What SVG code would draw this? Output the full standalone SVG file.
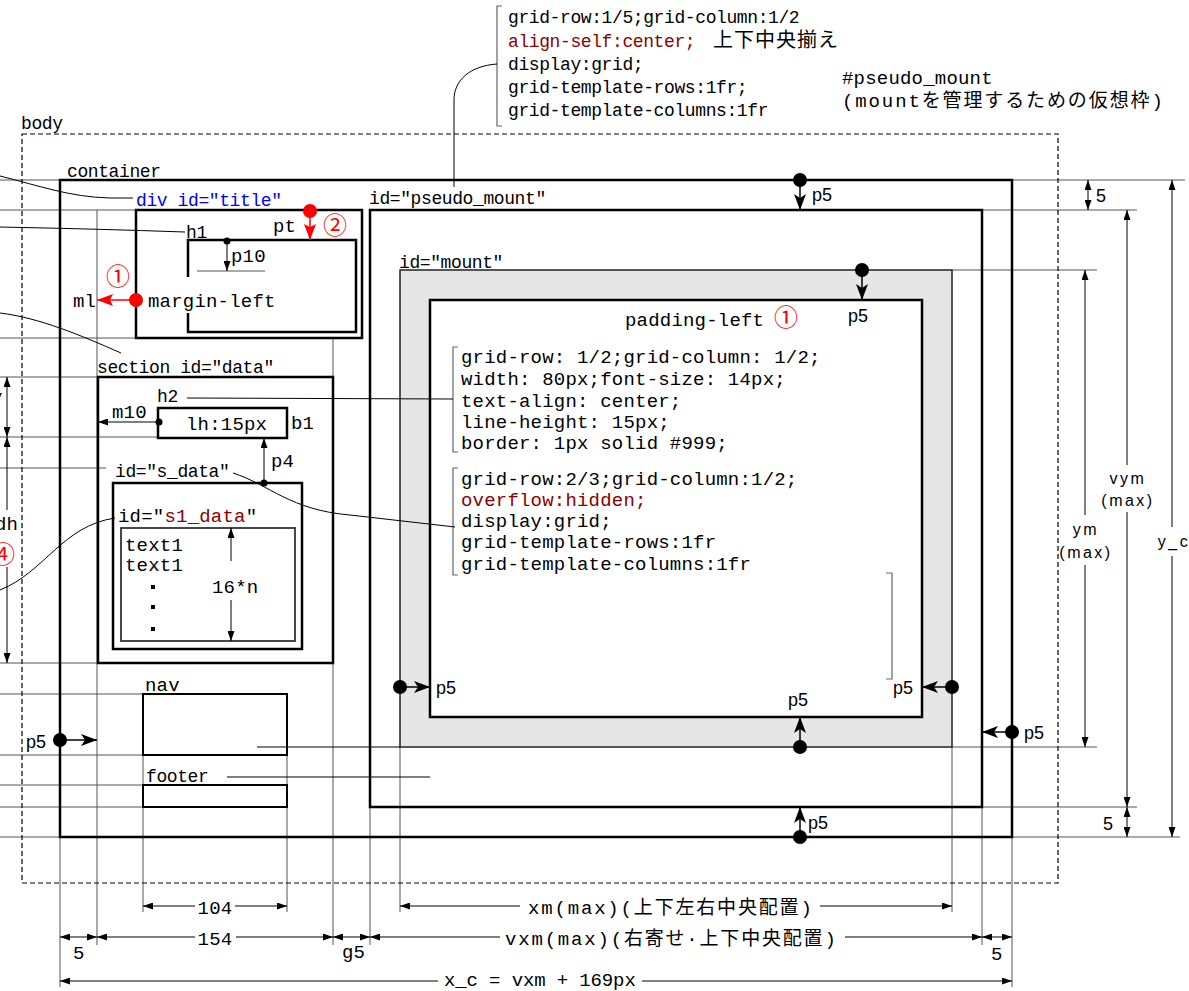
<svg xmlns="http://www.w3.org/2000/svg" width="1189" height="991" viewBox="0 0 1189 991">
<defs>
<style>
text{fill:#000}
.a{font-family:"Liberation Mono","Noto Sans CJK JP",monospace;font-size:18px;letter-spacing:-0.4px}
.b{font-family:"Liberation Mono","Noto Sans CJK JP",monospace;font-size:19px;letter-spacing:0.2px}
.r{font-family:"Liberation Sans","Noto Sans CJK JP",sans-serif;font-size:18px}
.v{font-family:"Liberation Sans",sans-serif;font-size:16px;letter-spacing:2.5px}
.c{font-family:"Noto Sans CJK JP",sans-serif;font-size:24px;fill:#f00}
.dr{fill:#8b0000}
.blue{fill:#0000ff}
.box{fill:none;stroke:#000;stroke-width:2.5}
.ext{fill:none;stroke:#555;stroke-width:1}
.ln{fill:none;stroke:#000;stroke-width:1}
.brk{fill:none;stroke:#666;stroke-width:1.2}
.dot{fill:#000}
.rdot{fill:#f00}
</style>
<marker id="da" viewBox="0 0 10 7" refX="10" refY="3.5" markerWidth="10" markerHeight="7" markerUnits="userSpaceOnUse" orient="auto-start-reverse"><path d="M0,0 L10,3.5 L0,7 z" fill="#000"/></marker>
<marker id="pa" viewBox="0 0 16 12" refX="16" refY="6" markerWidth="16" markerHeight="12" markerUnits="userSpaceOnUse" orient="auto"><path d="M0,0 L16,6 L0,12 L4,6 z" fill="#000"/></marker>
<marker id="ra" viewBox="0 0 16 12" refX="16" refY="6" markerWidth="16" markerHeight="12" markerUnits="userSpaceOnUse" orient="auto"><path d="M0,0 L16,6 L0,12 L3,6 z" fill="#f00"/></marker>
</defs>
<rect width="1189" height="991" fill="#fff"/>

<!-- extension lines -->
<g id="extensions" class="ext">
<path d="M0,180H60 M0,210H136 M0,338H136 M0,377H98 M0,437H158 M0,468H106 M0,663H98 M0,694H143 M0,755H143 M0,785H143 M0,807H143 M0,837H60"/>
<path d="M1012,180H1185 M982,210H1137 M952,270H1097 M952,747H1097 M982,807H1137 M1012,837H1180"/>
<path d="M97,210V945 M333,338V945 M143,755V912 M287,755V912 M400,747V912 M952,747V912 M370,807V945 M982,807V945 M60,837V987 M1012,837V987"/>
<path d="M197,271H265"/>
</g>

<g id="body">
<rect x="22" y="134" width="1036" height="749" fill="none" stroke="#000" stroke-width="1.2" stroke-dasharray="5 3"/>
<text class="a" x="21" y="129">body</text>
</g>

<g id="container">
<rect class="box" x="60" y="180" width="952" height="657"/>
<text class="a" x="67" y="177">container</text>
</g>

<g id="title">
<rect class="box" x="136" y="210" width="226" height="128"/>
<text class="a blue" x="136" y="206">div id=″title″</text>
</g>

<g id="h1">
<path class="box" d="M188,277V240H356V332H188V313"/>
<text class="a" x="186" y="238">h1</text>
<text class="b" x="148" y="307">margin-left</text>
</g>

<g id="pseudo_mount">
<rect class="box" x="370" y="210" width="612" height="597"/>
<text class="a" x="369" y="204">id=″pseudo_mount″</text>
</g>

<g id="mount">
<rect x="400" y="270" width="552" height="477" fill="#e6e6e6" stroke="#222" stroke-width="1.5"/>
<rect x="430" y="300" width="492" height="417" fill="#fff" stroke="#000" stroke-width="2.5"/>
<text class="a" x="399" y="268">id=″mount″</text>
<text class="b" x="625" y="326">padding-left</text>
<text class="c" x="774" y="326">①</text>
</g>

<g id="data">
<rect class="box" x="98" y="377" width="235" height="286"/>
<text class="a" x="97" y="373">section id=″data″</text>
</g>

<g id="h2">
<rect class="box" x="158" y="408" width="129" height="30"/>
<text class="a" x="157" y="402">h2</text>
<text class="b" x="186" y="430">lh:15px</text>
<text class="b" x="291" y="429">b1</text>
</g>

<g id="s_data">
<rect class="box" x="113" y="483" width="189" height="166"/>
<text class="a" x="115" y="477">id=″s_data″</text>
</g>

<g id="s1_data">
<rect x="121" y="528" width="174" height="113" fill="none" stroke="#333" stroke-width="1.8"/>
<text class="b" x="118" y="522">id=″<tspan class="dr">s1_data</tspan>″</text>
<text class="b" x="125" y="551">text1</text>
<text class="b" x="125" y="571">text1</text>
<rect x="151" y="585" width="4" height="4"/>
<rect x="151" y="605" width="4" height="4"/>
<rect x="151" y="627" width="4" height="4"/>
<text class="b" x="212" y="593">16*n</text>
</g>

<g id="nav">
<rect x="143" y="694" width="144" height="61" fill="none" stroke="#000" stroke-width="2"/>
<text class="b" x="145" y="691">nav</text>
</g>

<g id="footer">
<rect x="143" y="785" width="144" height="22" fill="none" stroke="#000" stroke-width="2"/>
<text class="a" x="146" y="782">footer</text>
</g>

<g id="note_pseudo_mount">
<path class="brk" d="M502,6H497V126H502"/>
<text class="a" x="508" y="23">grid-row:1/5;grid-column:1/2</text>
<text class="a" x="508" y="47"><tspan class="dr">align-self:center;</tspan><tspan x="713" font-size="20" letter-spacing="1">上下中央揃え</tspan></text>
<text class="a" x="508" y="70">display:grid;</text>
<text class="a" x="508" y="93">grid-template-rows:1fr;</text>
<text class="a" x="508" y="116">grid-template-columns:1fr</text>
<text class="b" x="842" y="84">#pseudo_mount</text>
<text class="b" x="842" y="107" textLength="321" lengthAdjust="spacing">(mountを管理するための仮想枠)</text>
</g>

<g id="note_h2">
<path class="brk" d="M458,347H453V452H458"/>
<text class="b" x="461" y="363">grid-row: 1/2;grid-column: 1/2;</text>
<text class="b" x="461" y="385">width: 80px;font-size: 14px;</text>
<text class="b" x="461" y="407">text-align: center;</text>
<text class="b" x="461" y="428">line-height: 15px;</text>
<text class="b" x="461" y="449">border: 1px solid #999;</text>
</g>

<g id="note_s_data">
<path class="brk" d="M458,468H453V575H458"/>
<text class="b" x="461" y="485">grid-row:2/3;grid-column:1/2;</text>
<text class="b dr" x="461" y="506">overflow:hidden;</text>
<text class="b" x="461" y="527">display:grid;</text>
<text class="b" x="461" y="548">grid-template-rows:1fr</text>
<text class="b" x="461" y="570">grid-template-columns:1fr</text>
<path class="brk" d="M886,573H892V679H886"/>
</g>

<g id="connectors">
<path class="ln" d="M0,176 C40,186 70,197 110,198 L133,198"/>
<path class="ln" d="M0,227 Q100,229 185,232"/>
<path class="ln" d="M0,313 C40,318 80,335 121,353"/>
<path class="ln" d="M0,590 C45,572 62,526 115,518"/>
<path class="ln" d="M233,473 C270,485 290,510 350,515 L455,527"/>
<path class="ln" d="M187,398 L453,399"/>
<path class="ln" d="M257,747 H400"/>
<path class="ln" d="M227,777 H430"/>
<path class="ln" d="M497,64 C470,66 454,80 454,100 V187"/>

<!-- p5 arrows -->
<g stroke="#000" stroke-width="1.5" fill="none" marker-end="url(#pa)">
<path d="M800,180V210"/>
<path d="M1012,732H982"/>
<path d="M800,837V807"/>
<path d="M60,740H97"/>
<path d="M862,270V300"/>
<path d="M400,687H430"/>
<path d="M952,687H922"/>
<path d="M800,747V717"/>
</g>
<g class="dot">
<circle cx="800" cy="180" r="7"/>
<circle cx="1012" cy="732" r="7"/>
<circle cx="800" cy="837" r="7"/>
<circle cx="60" cy="740" r="7"/>
<circle cx="862" cy="270" r="7"/>
<circle cx="400" cy="687" r="7"/>
<circle cx="952" cy="687" r="7"/>
<circle cx="800" cy="747" r="7"/>
<circle cx="227" cy="241" r="3.5"/>
<circle cx="159" cy="422" r="3.5"/>
<circle cx="264" cy="483" r="3.5"/>
</g>
<g class="r">
<text x="812" y="201">p5</text>
<text x="1024" y="739">p5</text>
<text x="808" y="829">p5</text>
<text x="26" y="748">p5</text>
<text x="848" y="322">p5</text>
<text x="436" y="694">p5</text>
<text x="893" y="694">p5</text>
<text x="788" y="706">p5</text>
</g>
<!-- small arrows -->
<g stroke="#000" stroke-width="1" fill="none" marker-end="url(#da)">
<path d="M227,241V271"/>
<path d="M159,422H98"/>
<path d="M264,483V438"/>
</g>
<text class="b" x="231" y="262">p10</text>
<text class="b" x="112" y="418">m10</text>
<text class="b" x="271" y="467">p4</text>
<!-- red arrows -->
<g stroke="#f00" stroke-width="1.5" fill="none" marker-end="url(#ra)">
<path d="M310,211V240"/>
<path d="M136,300H97"/>
</g>
<circle class="rdot" cx="310" cy="211" r="7"/>
<circle class="rdot" cx="136" cy="300" r="7"/>
<text class="b" x="273" y="232">pt</text>
<text class="c" x="323" y="234">②</text>
<text class="b" x="73" y="307">ml</text>
<text class="c" x="106" y="285">①</text>
</g>

<g id="dimensions">
<g stroke="#000" stroke-width="1" fill="none">
<path d="M143,906H195" marker-start="url(#da)"/>
<path d="M235,906H287" marker-end="url(#da)"/>
<path d="M60,937H97" marker-start="url(#da)" marker-end="url(#da)"/>
<path d="M97,937H195" marker-start="url(#da)"/>
<path d="M236,937H333" marker-end="url(#da)"/>
<path d="M333,937H370" marker-start="url(#da)" marker-end="url(#da)"/>
<path d="M370,937H500" marker-start="url(#da)"/>
<path d="M845,937H982" marker-end="url(#da)"/>
<path d="M982,937H1012" marker-start="url(#da)" marker-end="url(#da)"/>
<path d="M400,906H520" marker-start="url(#da)"/>
<path d="M820,906H952" marker-end="url(#da)"/>
<path d="M60,981H438" marker-start="url(#da)"/>
<path d="M642,981H1012" marker-end="url(#da)"/>
<path d="M1088,180V210" marker-start="url(#da)" marker-end="url(#da)"/>
<path d="M1127,210V465" marker-start="url(#da)"/>
<path d="M1127,512V807" marker-end="url(#da)"/>
<path d="M1085,270V515" marker-start="url(#da)"/>
<path d="M1085,565V747" marker-end="url(#da)"/>
<path d="M1172,180V527" marker-start="url(#da)"/>
<path d="M1172,556V837" marker-end="url(#da)"/>
<path d="M1127,807V837" marker-start="url(#da)" marker-end="url(#da)"/>
<path d="M7,377V437" marker-start="url(#da)" marker-end="url(#da)"/>
<path d="M7,437V510" marker-start="url(#da)"/>
<path d="M7,567V663" marker-end="url(#da)"/>
<path d="M231,528V561" marker-start="url(#da)"/>
<path d="M231,600V641" marker-end="url(#da)"/>
</g>
<text class="b" x="215" y="914" text-anchor="middle">104</text>
<text class="b" x="215" y="945" text-anchor="middle">154</text>
<text class="b" x="73" y="959">5</text>
<text class="b" x="342" y="958">g5</text>
<text class="b" x="991" y="960">5</text>
<text class="b" x="528" y="914" textLength="284" lengthAdjust="spacing">xm(max)(上下左右中央配置)</text>
<text class="b" x="505" y="945" textLength="331" lengthAdjust="spacing">vxm(max)(右寄せ·上下中央配置)</text>
<text class="b" x="444" y="986" textLength="192" lengthAdjust="spacing">x_c = vxm + 169px</text>
<text class="r" x="1096" y="202">5</text>
<text class="r" x="1103" y="830">5</text>
<text class="v" x="1128" y="484" text-anchor="middle">vym</text>
<text class="v" x="1128" y="506" text-anchor="middle">(max)</text>
<text class="v" x="1086" y="535" text-anchor="middle">ym</text>
<text class="v" x="1086" y="558" text-anchor="middle">(max)</text>
<text class="v" x="1174" y="547" text-anchor="middle">y_c</text>
<text class="b" x="-9" y="403">y</text>
<text class="b" x="-5" y="530">dh</text>
<text class="c" x="-9" y="563">④</text>
</g>
</svg>
